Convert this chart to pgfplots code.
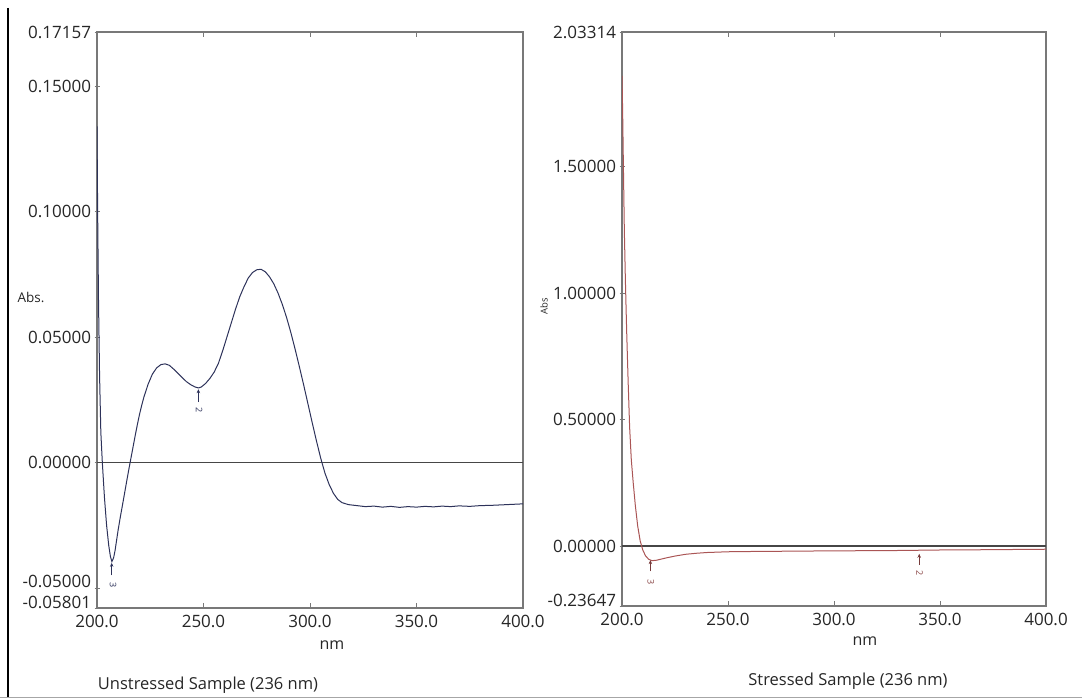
\documentclass[border=0pt]{standalone}
\usepackage{pgfplots}
\pgfplotsset{compat=1.18}
\usepackage{fontspec}
\setmainfont{Open Sans}
\usetikzlibrary{arrows.meta}
\definecolor{navyc}{RGB}{45,50,90}
\definecolor{redc}{RGB}{170,85,85}
\definecolor{boxc}{RGB}{120,120,120}
\definecolor{zeroc}{RGB}{70,70,70}

\pgfplotstableread{
x y
200.0 0.134
200.3 0.100
200.7 0.065
201.2 0.035
201.8 0.012
202.5 0.000
203.5 -0.014
204.5 -0.025
205.5 -0.033
206.3 -0.0375
207.0 -0.0395
207.8 -0.0380
208.5 -0.0350
209.2 -0.0310
210.0 -0.0265
211.0 -0.0215
212.0 -0.0168
213.0 -0.0120
214.0 -0.0072
215.0 -0.0025
216.0 0.0020
217.0 0.0065
218.0 0.0110
219.0 0.0153
220.0 0.0193
221.0 0.0228
222.0 0.0260
224.0 0.0312
226.0 0.0352
228.0 0.0377
230.0 0.0390
232.0 0.0393
234.0 0.0387
236.0 0.0372
238.0 0.0355
240.0 0.0338
242.0 0.0322
244.0 0.0310
246.0 0.0301
247.6 0.0297
249.0 0.0301
251.0 0.0315
253.0 0.0335
255.0 0.0360
257.0 0.0395
259.0 0.0445
261.0 0.0500
263.0 0.0555
265.0 0.0610
267.0 0.0660
269.0 0.0700
271.0 0.0735
273.0 0.0757
275.0 0.0768
277.0 0.0770
279.0 0.0760
281.0 0.0740
283.0 0.0712
285.0 0.0675
287.0 0.0630
289.0 0.0578
291.0 0.0518
293.0 0.0452
295.0 0.0382
297.0 0.0310
299.0 0.0235
301.0 0.0160
303.0 0.0087
305.0 0.0018
307.0 -0.0042
309.0 -0.0088
311.0 -0.0123
313.0 -0.0147
315.0 -0.0160
318.0 -0.0168
322.0 -0.0172
326.0 -0.0176
330.0 -0.0174
334.0 -0.0178
338.0 -0.0175
342.0 -0.0179
346.0 -0.0176
350.0 -0.0178
354.0 -0.0175
358.0 -0.0177
362.0 -0.0174
366.0 -0.0176
370.0 -0.0173
375.0 -0.0175
380.0 -0.0172
385.0 -0.0171
390.0 -0.0169
395.0 -0.0167
400.0 -0.0165
}\unstressed

\pgfplotstableread{
x y
200.0 1.86
200.3 1.72
200.7 1.48
201.1 1.25
201.6 1.05
202.2 0.85
202.9 0.65
203.6 0.47
204.4 0.34
205.3 0.25
206.3 0.16
207.4 0.08
208.6 0.02
209.8 -0.015
211.1 -0.038
212.5 -0.051
214.0 -0.057
216.0 -0.056
218.0 -0.052
221.0 -0.046
225.0 -0.039
230.0 -0.032
235.0 -0.028
240.0 -0.025
250.0 -0.022
260.0 -0.021
275.0 -0.020
290.0 -0.019
310.0 -0.018
330.0 -0.017
350.0 -0.015
370.0 -0.014
385.0 -0.013
400.0 -0.012
}\stressed

\begin{document}
\begin{tikzpicture}
\path[use as bounding box] (0pt,0pt) rectangle (1082pt,-698pt);
\draw[black, line width=1.5pt] (8pt,-8pt) -- (8pt,-698pt);
\draw[black!35, line width=1pt] (0pt,-697pt) -- (1082pt,-697pt);

\pgfplotsset{every axis/.append style={
  scale only axis, xmin=200, xmax=400,
  axis line style={boxc, line width=1.1pt},
  tick style={boxc, line width=0.8pt},
  ytick pos=left,
  ytick align=center, xtick align=inside,
  major tick length=5pt,
  xtick={200,250,300,350,400},
  xticklabels={200.0,250.0,300.0,350.0,400.0},
  ticklabel style={font=\fontsize{17}{20}\selectfont, text=black!85},
  xticklabel style={yshift=-4pt},
  /pgf/number format/assume math mode=true,
}}

% Left panel
\begin{axis}[at={(97pt,-608pt)}, anchor=south west, width=426pt, height=576pt,
  ymin=-0.05801, ymax=0.17157,
  ytick={0,0.05,0.1,0.15,0.17157},
  yticklabels={0.00000,0.05000,0.10000,0.15000,0.17157},
  extra y ticks={-0.05801,-0.05},
  extra y tick labels={-0.05801,-0.05000},
  extra y tick style={yticklabel style={yshift=6pt}},
]
\addplot[zeroc, line width=1.8pt] coordinates {(200,0) (400,0)};
\addplot[navyc, line width=1pt] table[x=x,y=y] {\unstressed};
\draw[navyc, line width=0.8pt, -{Stealth[length=4pt,width=3.5pt]}] (axis cs:206.9,-0.0450) -- (axis cs:206.9,-0.0400);
\node[navyc, rotate=-90, font=\fontsize{9}{10}\selectfont] at (axis cs:207.6,-0.0490) {3};
\draw[navyc, line width=0.8pt, -{Stealth[length=4pt,width=3.5pt]}] (axis cs:247.6,0.0240) -- (axis cs:247.6,0.0292);
\node[navyc, rotate=-90, font=\fontsize{9}{10}\selectfont] at (axis cs:247.9,0.0207) {2};
\end{axis}

% Right panel
\begin{axis}[at={(622pt,-606pt)}, anchor=south west, width=424pt, height=574pt,
  ymin=-0.23647, ymax=2.03314,
  ytick={0,0.5,1,1.5,2.03314},
  yticklabels={0.00000,0.50000,1.00000,1.50000,2.03314},
  extra y ticks={-0.23647},
  extra y tick labels={-0.23647},
  extra y tick style={yticklabel style={yshift=6pt}},
]
\addplot[zeroc, line width=1.8pt] coordinates {(200,0) (400,0)};
\addplot[redc, line width=1pt] table[x=x,y=y] {\stressed};
\draw[redc!70!black, line width=0.8pt, -{Stealth[length=4pt,width=3.5pt]}] (axis cs:213.4,-0.100) -- (axis cs:213.4,-0.055);
\node[redc!80!black, rotate=-90, font=\fontsize{9}{10}\selectfont] at (axis cs:213.6,-0.140) {3};
\draw[redc!70!black, line width=0.8pt, -{Stealth[length=4pt,width=3.5pt]}] (axis cs:340.2,-0.075) -- (axis cs:340.2,-0.030);
\node[redc!80!black, rotate=-90, font=\fontsize{9}{10}\selectfont] at (axis cs:340.4,-0.108) {2};
\end{axis}

% labels
\node[font=\fontsize{13.5}{15}\selectfont, text=black!85] at (31pt,-297pt) {Abs.};
\node[font=\fontsize{9.5}{11}\selectfont, text=black!85, rotate=90] at (544pt,-306pt) {Abs};
\node[font=\fontsize{16}{18}\selectfont, text=black!85] at (332pt,-645pt) {nm};
\node[font=\fontsize{16}{18}\selectfont, text=black!85] at (865pt,-641pt) {nm};
\node[font=\fontsize{16.5}{18}\selectfont, text=black!85] at (208pt,-685pt) {Unstressed Sample (236 nm)};
\node[font=\fontsize{16.5}{18}\selectfont, text=black!85] at (848pt,-681pt) {Stressed Sample (236 nm)};
\end{tikzpicture}
\end{document}
